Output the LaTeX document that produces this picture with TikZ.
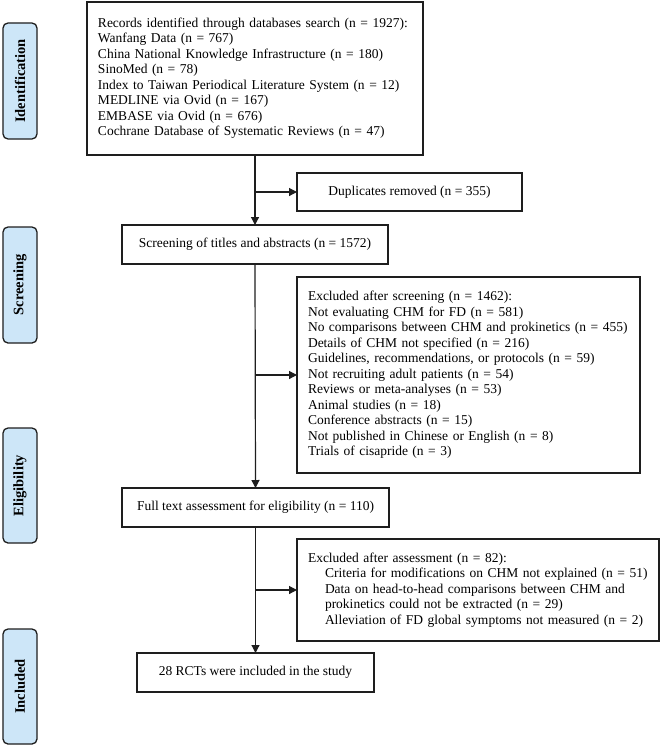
\documentclass[tikz,border=0pt]{standalone}
\usepackage{fontspec}
\setmainfont{Liberation Serif}
\usetikzlibrary{arrows.meta}
\definecolor{tabfill}{HTML}{CDE6F8}
\definecolor{lineclr}{HTML}{1E1E1E}
\newcommand{\lines}[1]{\begin{tabular}{@{}l@{}}#1\end{tabular}}
\tikzset{
  box/.style={draw=lineclr, line width=1.2bp, fill=white, inner xsep=11bp, inner ysep=0bp, outer sep=0bp,
    font=\fontsize{13.5bp}{15.5bp}\selectfont},
  listbox/.style={box, align=left},
  onebox/.style={box, align=center},
  tab/.style={draw=lineclr, line width=1.3bp, fill=tabfill, rounded corners=5bp, minimum width=34bp,
    inner sep=0bp, outer sep=0bp, font=\fontsize{14.5bp}{15.5bp}\selectfont\bfseries},
  arr/.style={draw=lineclr, line width=1.2bp, -{Triangle[length=8bp,width=8bp]}},
}
\begin{document}
\begin{tikzpicture}[x=1bp,y=-1bp]
\useasboundingbox (0,0) rectangle (660,745);
% phase tabs
\node[tab, minimum height=116bp] (tid) at (20,81) {\rotatebox{90}{Identification}};
\node[tab, minimum height=116bp] (tsc) at (20,285) {\rotatebox{90}{Screening}};
\node[tab, minimum height=115bp] (tel) at (20,485.5) {\rotatebox{90}{Eligibility}};
\node[tab, minimum height=115bp] (tin) at (20,686.5) {\rotatebox{90}{Included}};
% boxes
\node[listbox, text width=314bp, minimum height=153bp] (rec) at (255,78.5) {\lines{Records identified through databases search (n = 1927):\\
Wanfang Data (n = 767)\\
China National Knowledge Infrastructure (n = 180)\\
SinoMed (n = 78)\\
Index to Taiwan Periodical Literature System (n = 12)\\
MEDLINE via Ovid (n = 167)\\
EMBASE via Ovid (n = 676)\\
Cochrane Database of Systematic Reviews (n = 47)}};
\node[onebox, minimum width=225bp, minimum height=38bp] (dup) at (409.5,192) {Duplicates removed (n = 355)};
\node[onebox, minimum width=266bp, minimum height=39bp] (scr) at (255,244.5) {Screening of titles and abstracts (n = 1572)};
\node[listbox, text width=321bp, minimum height=196bp] (ex1) at (468.5,375) {\lines{Excluded after screening (n = 1462):\\
Not evaluating CHM for FD (n = 581)\\
No comparisons between CHM and prokinetics (n = 455)\\
Details of CHM not specified (n = 216)\\
Guidelines, recommendations, or protocols (n = 59)\\
Not recruiting adult patients (n = 54)\\
Reviews or meta-analyses (n = 53)\\
Animal studies (n = 18)\\
Conference abstracts (n = 15)\\
Not published in Chinese or English (n = 8)\\
Trials of cisapride (n = 3)}};
\node[onebox, minimum width=267bp, minimum height=39bp] (ful) at (255.5,507.5) {Full text assessment for eligibility (n = 110)};
\node[listbox, text width=340bp, minimum height=102bp] (ex2) at (478,590) {\lines{Excluded after assessment (n = 82):\\
\hspace*{17bp}Criteria for modifications on CHM not explained (n = 51)\\
\hspace*{17bp}Data on head-to-head comparisons between CHM and\\
\hspace*{17bp}prokinetics could not be extracted (n = 29)\\
\hspace*{17bp}Alleviation of FD global symptoms not measured (n = 2)}};
\node[onebox, minimum width=237bp, minimum height=39bp] (rct) at (255.5,672.5) {28 RCTs were included in the study};
% connectors
\coordinate (b1) at (255,192);
\coordinate (b2) at (255,375);
\coordinate (b3) at (255,590);
\draw[arr] (rec.south) -- (scr.north);
\draw[arr] (b1) -- (dup.west);
\draw[arr] (scr.south) -- (ful.north);
\draw[arr] (b2) -- (ex1.west);
\draw[arr] (ful.south) -- (rct.north);
\draw[arr] (b3) -- (ex2.west);
\end{tikzpicture}
\end{document}
